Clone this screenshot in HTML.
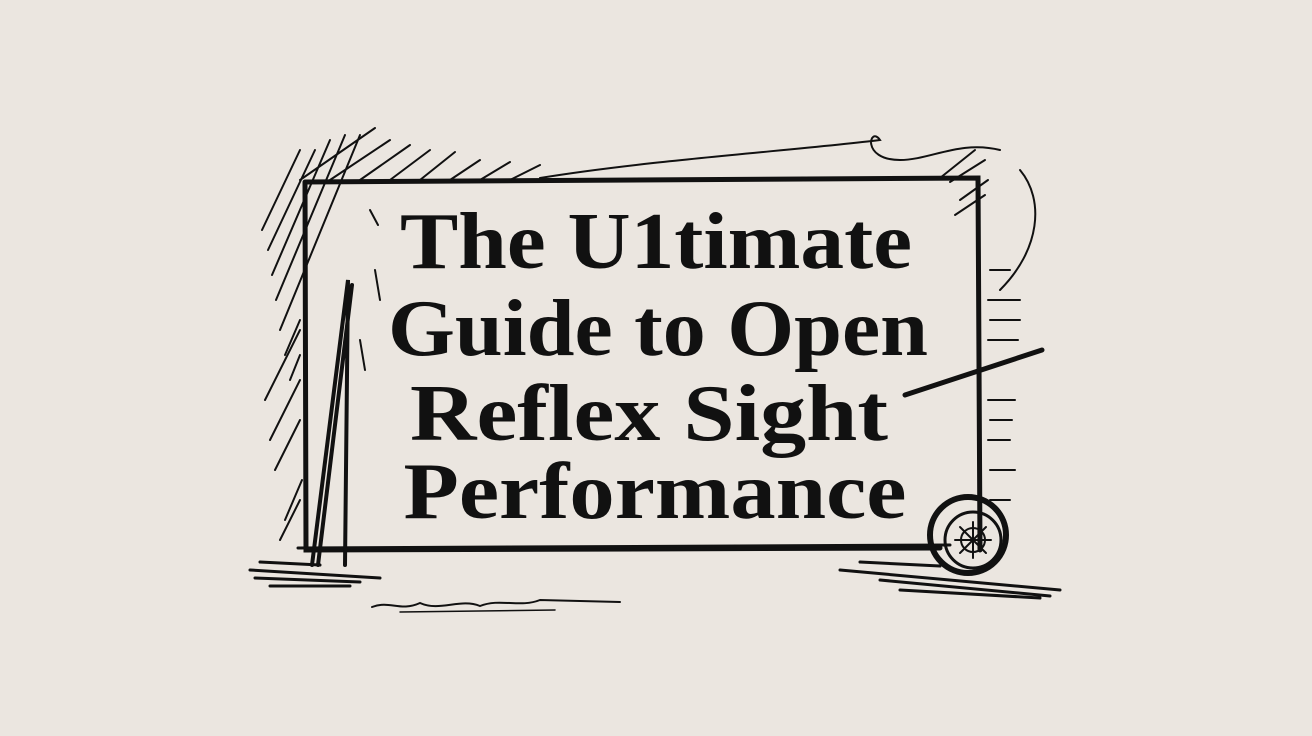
<!DOCTYPE html>
<html><head><meta charset="utf-8"><style>
html,body{margin:0;padding:0;background:#ebe6e0;}
svg{display:block}
</style></head><body>
<svg width="1312" height="736" viewBox="0 0 1312 736" xmlns="http://www.w3.org/2000/svg">
<rect width="1312" height="736" fill="#ebe6e0"/>
<g stroke="#111" fill="none" stroke-linecap="round">
<!-- frame -->
<path d="M305 182 L978 178 L980 550 M305 182 L306 550 L940 548" stroke-width="5"/>
<path d="M298 548 L950 545" stroke-width="3"/>
<!-- hatching top-left -->
<g stroke-width="2">
<path d="M262 230 L300 150 M268 250 L315 150 M272 275 L330 140 M276 300 L345 135 M280 330 L360 135 M285 355 L300 320 M290 380 L300 355 M300 180 L375 128 M330 180 L390 140 M360 180 L410 145 M390 180 L430 150 M420 180 L455 152 M450 180 L480 160 M480 180 L510 162 M510 180 L540 165"/>
<path d="M265 400 L300 330 M270 440 L300 380 M275 470 L300 420 M285 520 L302 480 M280 540 L300 500"/>
<path d="M940 178 L975 150 M950 182 L985 160 M960 200 L988 180 M955 215 L985 195"/>
<path d="M990 270 L1010 270 M988 300 L1020 300 M990 320 L1020 320 M988 340 L1018 340 M988 400 L1015 400 M990 420 L1012 420 M988 440 L1010 440 M990 470 L1015 470 M990 500 L1010 500"/>
<path d="M540 178 C650 160 800 150 880 140 C870 125 860 160 900 160 C930 160 960 140 1000 150"/>
<path d="M1020 170 C1045 200 1040 250 1000 290"/>
<path d="M370 210 L378 225 M375 270 L380 300 M360 340 L365 370"/>
</g>
<!-- pole -->
<path d="M312 565 L348 280 L345 565 M318 565 L352 285" stroke-width="4"/>
<!-- pen -->
<path d="M905 395 L1042 350" stroke-width="5"/>
<!-- ground -->
<g stroke-width="3">
<path d="M250 570 L380 578 M255 578 L360 582 M270 586 L350 586 M260 562 L320 565"/>
<path d="M840 570 L1060 590 M880 580 L1050 596 M900 590 L1040 598 M860 562 L940 566"/>
<path d="M372 607 C390 600 400 612 420 603 C440 612 460 598 480 606 C500 598 520 608 540 600 L620 602" stroke-width="2"/>
<path d="M400 612 L555 610" stroke-width="1.5"/>
</g>
<!-- wheel -->
<circle cx="968" cy="535" r="38" stroke-width="6"/>
<circle cx="973" cy="540" r="28" stroke-width="3"/>
<circle cx="973" cy="540" r="12" stroke-width="2"/>
<path d="M973 522 L973 558 M955 540 L991 540 M960 527 L986 553 M986 527 L960 553" stroke-width="2"/>
</g>
<g font-family="'Liberation Serif',serif" font-weight="bold" font-size="80" fill="#111" text-anchor="middle">
<text x="656" y="268" textLength="512" lengthAdjust="spacingAndGlyphs">The U1timate</text>
<text x="658" y="355" textLength="540" lengthAdjust="spacingAndGlyphs">Guide to Open</text>
<text x="649" y="440" textLength="478" lengthAdjust="spacingAndGlyphs">Reflex Sight</text>
<text x="655" y="518" textLength="503" lengthAdjust="spacingAndGlyphs">Performance</text>
</g>
</svg>
</body></html>
